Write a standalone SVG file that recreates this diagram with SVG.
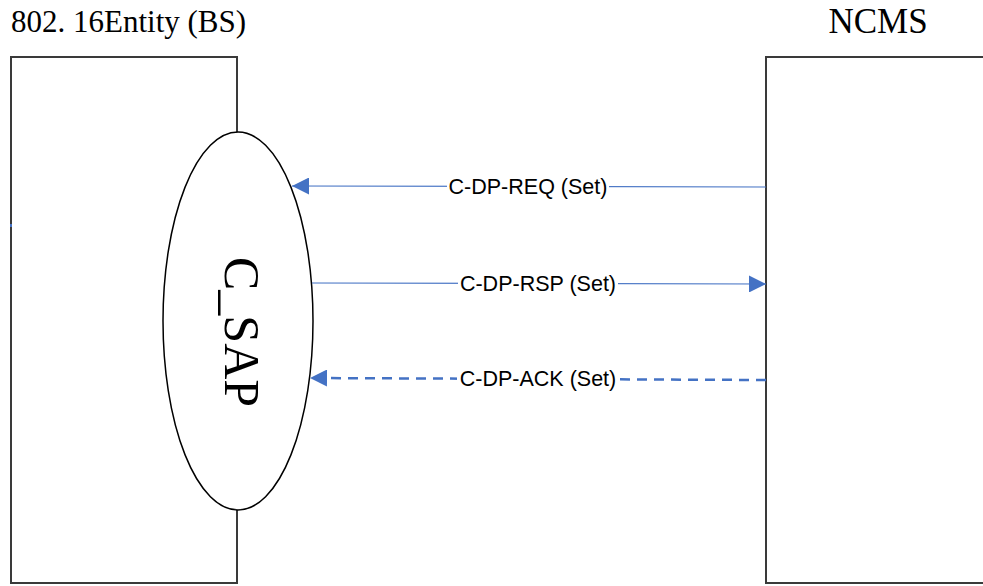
<svg xmlns="http://www.w3.org/2000/svg" width="983" height="586" viewBox="0 0 983 586">
  <style>
    .box { fill: #ffffff; stroke: #3a3a3a; stroke-width: 2; }
    .sap { fill: #ffffff; stroke: #000000; stroke-width: 1.5; }
    .title { font-family: "Liberation Serif", "Times New Roman", serif; font-size: 31px; fill: #000000; }
    .sapText { font-family: "Liberation Serif", "Times New Roman", serif; font-size: 50px; fill: #000000; }
    .msg { stroke: #4472C4; stroke-width: 1.2; fill: none; }
    .msgDash { stroke: #4472C4; stroke-width: 2.5; fill: none; stroke-dasharray: 10 7; }
    .lbl { font-family: "Liberation Sans", Arial, sans-serif; font-size: 21.5px; fill: #000000; }
    .lblBg { fill: #ffffff; }
  </style>
  <defs>
    <marker id="tri" viewBox="0 0 10 10" refX="10" refY="5" markerUnits="userSpaceOnUse" markerWidth="27" markerHeight="17" orient="auto">
      <path d="M0,0 L10,5 L0,10 z" fill="#4472C4"/>
    </marker>
  </defs>

  <rect width="983" height="586" fill="#ffffff"/>

  <!-- BS entity -->
  <g id="bs">
    <rect class="box" x="11" y="57" width="226" height="526"/>
    <text class="title" x="11" y="32">802. 16Entity (BS)</text>
    <rect x="10" y="224" width="2" height="3" fill="#4472C4"/>
  </g>

  <!-- NCMS entity -->
  <g id="ncms">
    <rect class="box" x="766" y="57" width="240" height="526"/>
    <text class="title" x="878" y="33" text-anchor="middle" style="font-size:35px">NCMS</text>
  </g>

  <!-- service access point -->
  <g id="c_sap">
    <ellipse class="sap" cx="238" cy="321" rx="75" ry="189"/>
    <text class="sapText" transform="translate(225,332) rotate(90)" text-anchor="middle">C_SAP</text>
  </g>

  <!-- messages -->
  <g id="connectors">
    <line class="msg" x1="766" y1="187" x2="292" y2="186" marker-end="url(#tri)"/>
    <rect class="lblBg" x="447" y="175" width="162" height="24"/>
    <text class="lbl" x="528" y="194" text-anchor="middle">C-DP-REQ (Set)</text>

    <line class="msg" x1="312" y1="283" x2="766" y2="284" marker-end="url(#tri)"/>
    <rect class="lblBg" x="458" y="272" width="160" height="24"/>
    <text class="lbl" x="538" y="291" text-anchor="middle">C-DP-RSP (Set)</text>

    <line class="msgDash" x1="766" y1="380" x2="310" y2="378" marker-end="url(#tri)"/>
    <rect class="lblBg" x="457" y="367" width="162" height="24"/>
    <text class="lbl" x="538" y="386" text-anchor="middle">C-DP-ACK (Set)</text>
  </g>
</svg>
